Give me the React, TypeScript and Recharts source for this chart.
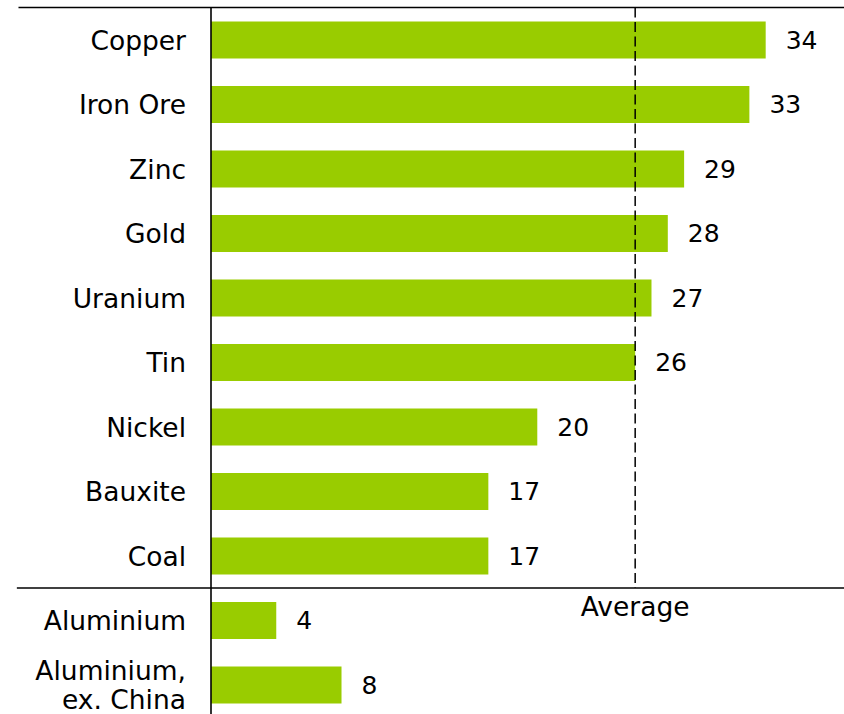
import { BarChart, Bar, XAxis, YAxis, ReferenceLine, LabelList } from 'recharts';

const commodities = ['Copper', 'Iron Ore', 'Zinc', 'Gold', 'Uranium', 'Tin', 'Nickel', 'Bauxite', 'Coal', 'Aluminium', 'Aluminium,\nex. China'];
const values = [34, 33, 29, 28, 27, 26, 20, 17, 17, 4, 8];
const averageValue = 26;
const averageLabel = 'Average';

const data = commodities.map((name, i) => ({ name, value: values[i] }));

const FONT = '"DejaVu Sans", Verdana, sans-serif';
const GREEN = '#99cc00';

function CategoryTick({ x, y, payload }: any) {
  const lines = String(payload.value).split('\n');
  const lh = 29;
  return (
    <text x={x} y={y} textAnchor="end" fontFamily={FONT} fontSize={26.5} fill="#000">
      {lines.map((line, i) => (
        <tspan key={i} x={x} dy={i === 0 ? -((lines.length - 1) * lh) / 2 + 10 : lh}>{line}</tspan>
      ))}
    </text>
  );
}

export default function App() {
  return (
    <div style={{ position: 'absolute', left: 0, top: 0, width: 844, height: 714, overflow: 'hidden', background: '#fff' }}>
      <BarChart
        width={844}
        height={718}
        data={data}
        layout="vertical"
        margin={{ top: 7.5, right: 0, left: 0, bottom: 1 }}
        barSize={37}
      >
        <XAxis type="number" domain={[0, 38.8]} hide />
        <YAxis
          type="category"
          dataKey="name"
          width={211}
          axisLine={{ stroke: '#000', strokeWidth: 1.6 }}
          tickLine={false}
          tickSize={0}
          tickMargin={25}
          tick={<CategoryTick />}
          interval={0}
        />
        <Bar dataKey="value" fill={GREEN} isAnimationActive={false}>
          <LabelList dataKey="value" position="right" offset={20} fontFamily={FONT} fontSize={25} fill="#000" />
        </Bar>
        <ReferenceLine
          segment={[{ x: -11.8, y: 'Copper' }, { x: 40, y: 'Copper' }]}
          position="start"
          ifOverflow="visible"
          stroke="#000"
          strokeWidth={1.6}
        />
        <ReferenceLine
          segment={[{ x: -11.9, y: 'Aluminium' }, { x: 40, y: 'Aluminium' }]}
          position="start"
          ifOverflow="visible"
          stroke="#000"
          strokeWidth={1.6}
        />
        <ReferenceLine
          segment={[{ x: averageValue, y: 'Copper' }, { x: averageValue, y: 'Aluminium' }]}
          position="start"
          ifOverflow="visible"
          stroke="#000"
          strokeWidth={1.5}
          strokeDasharray="10 4.5"
          label={{ value: averageLabel, position: 'bottom', offset: 9, fontFamily: FONT, fontSize: 26.5, fill: '#000' }}
        />
      </BarChart>
    </div>
  );
}
